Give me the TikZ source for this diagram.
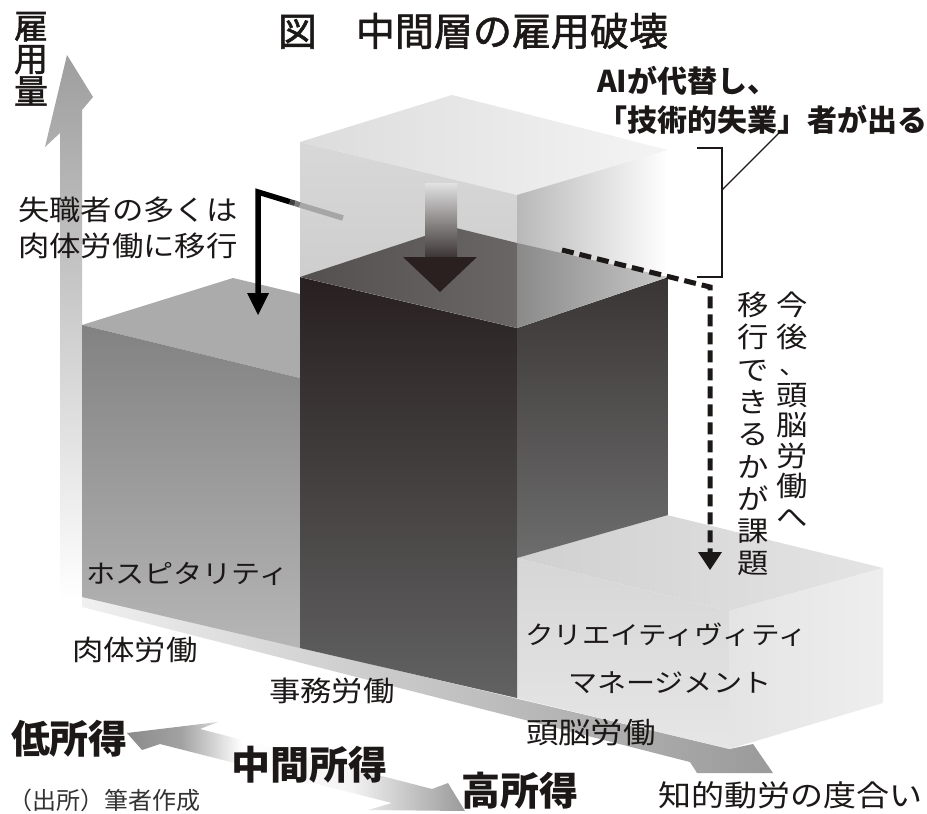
\documentclass[tikz,border=0pt]{standalone}
\usepackage{fontspec}
\newfontfamily\jp{Noto Sans CJK JP}
\newfontfamily\jpx[FakeStretch=1.12]{Noto Sans CJK JP}
\newfontfamily\jpm[FakeBold=1.5]{Noto Sans CJK JP}
\definecolor{ink}{HTML}{1C1818}
\definecolor{axA}{HTML}{9E9E9E}
\definecolor{hA}{HTML}{F0F0F0}
\definecolor{hB}{HTML}{9A9A9A}
\definecolor{iA}{HTML}{8A8A8A}
\definecolor{iB}{HTML}{A2A2A2}
\definecolor{iC}{HTML}{F4F4F4}
\definecolor{iD}{HTML}{9A9A9A}
\definecolor{lbTop}{HTML}{ABABAB}
\definecolor{lbA}{HTML}{828282}
\definecolor{lbB}{HTML}{B6B6B6}
\definecolor{rbTa}{HTML}{D0D0D0}
\definecolor{rbTb}{HTML}{E4E4E4}
\definecolor{rbFa}{HTML}{D6D6D6}
\definecolor{rbFb}{HTML}{E6E6E6}
\definecolor{rbRa}{HTML}{E4E4E4}
\definecolor{rbRb}{HTML}{EEEEEE}
\definecolor{dkFa}{HTML}{282020}
\definecolor{dkFb}{HTML}{626262}
\definecolor{dkRa}{HTML}{3A3535}
\definecolor{dkRb}{HTML}{6D6D6D}
\definecolor{ghTa}{HTML}{DCDCDC}
\definecolor{ghTb}{HTML}{F4F4F4}
\definecolor{ghFa}{HTML}{D8D8D8}
\definecolor{ghFb}{HTML}{CACACA}
\definecolor{ghRa}{HTML}{B8B8B8}
\definecolor{dtFa}{HTML}{555050}
\definecolor{dtFb}{HTML}{6A6666}
\definecolor{dtRa}{HTML}{8A8A8A}
\definecolor{dtRb}{HTML}{C8C8C8}
\definecolor{baA}{HTML}{E2E2E2}
\definecolor{baB}{HTML}{3C3434}
\definecolor{baC}{HTML}{2A2020}
\definecolor{lg1}{HTML}{404040}
\definecolor{lg2}{HTML}{777777}
\definecolor{lg3}{HTML}{A6A6A6}
\definecolor{src}{HTML}{333333}
\pgfdeclarehorizontalshading{incomeshade}{100bp}{color(0bp)=(iA); color(25bp)=(iA); color(33bp)=(iB); color(42bp)=(white); color(58bp)=(iC); color(75bp)=(iD); color(100bp)=(iD)}
\begin{document}
\begin{tikzpicture}[x=1pt,y=-1pt,
  txt/.style={inner sep=0pt, outer sep=0pt, text=ink},
  lab/.style={txt, anchor=west, font=\jpx\fontsize{28}{31.7}\selectfont},
  bold/.style={txt, anchor=west, font=\jp\bfseries\fontsize{39}{42}\selectfont},
  vcol/.style={txt, anchor=north, align=center, font=\jpx\fontsize{28}{32.3}\selectfont},
  dashline/.style={line width=5pt, dash pattern=on 12pt off 6pt, ink},
  thinline/.style={line width=1.3pt, ink}]
\useasboundingbox (0,0) rectangle (927,814);
\fill[white] (0,0) rectangle (927,814);

% vertical axis arrow
\shade[top color=axA, bottom color=white] (60,600) -- (60,133) -- (45,147) -- (67,55) -- (93,97) -- (82,110) -- (82,600) -- cycle;
% horizontal axis band
\shade[left color=hA, right color=hB] (82,596) -- (730,749) -- (753,744) -- (773,773) -- (697,773) -- (690,762) -- (82,607) -- cycle;
% income double arrow
\shade[shading=incomeshade] (127,733) -- (218,722) -- (200,729) -- (432,789) -- (448,783) -- (465,811) -- (368,810) -- (392,803) -- (160,744) -- (142,750) -- cycle;

% left block
\fill[lbTop] (82,325) -- (233,278) -- (300,294) -- (300,378) -- cycle;
\shade[top color=lbA, bottom color=lbB] (82,325) -- (300,378) -- (300,648) -- (82,597) -- cycle;

% right block
\shade[left color=rbTa, right color=rbTb] (517,558) -- (667,515) -- (883,568) -- (729,611) -- cycle;
\shade[top color=rbFa, bottom color=rbFb] (517,558) -- (729,611) -- (729,749) -- (517,698) -- cycle;
\shade[left color=rbRa, right color=rbRb] (729,611) -- (883,568) -- (883,703) -- (729,749) -- cycle;

% dark block
\shade[top color=dkFa, bottom color=dkFb] (300,277) -- (517,328) -- (517,698) -- (300,648) -- cycle;
\shade[top color=dkRa, bottom color=dkRb] (517,328) -- (668,277) -- (668,515) -- (517,558) -- cycle;

% ghost block
\shade[left color=ghTa, right color=ghTb] (300,142) -- (452,95) -- (668,150) -- (517,195) -- cycle;
\shade[top color=ghFa, bottom color=ghFb] (300,142) -- (517,195) -- (517,328) -- (300,277) -- cycle;
\shade[left color=ghRa, right color=white] (517,195) -- (668,150) -- (668,277) -- (517,328) -- cycle;
% dark top seen through ghost
\shade[left color=dtFa, right color=dtFb] (300,277) -- (452,227) -- (517,243) -- (517,328) -- cycle;
\shade[left color=dtRa, right color=dtRb] (517,243) -- (668,277) -- (517,328) -- cycle;

% big down arrow
\shade[top color=baA, bottom color=baB] (425,183) rectangle (457,257.5);
\fill[baC] (403,257) -- (477,257) -- (440,292) -- cycle;

% L-shaped arrow
\coordinate (lA) at (343,218);
\coordinate (l3) at (300,205);
\coordinate (l2) at (295,203.3);
\coordinate (l1) at (290,201.8);
\coordinate (lC) at (258,192);
\coordinate (lH) at (258,295);
\draw[line width=5.5pt, black, line join=miter] (l1) -- (lC) -- (lH);
\draw[line width=5.5pt, lg1] (l1) -- (l2);
\draw[line width=5.5pt, lg2] (l2) -- (l3);
\draw[line width=5.5pt, lg3] (l3) -- (lA);
\fill[black] (247,293) -- (269,293) -- (258,315) -- cycle;

% bracket and leader
\coordinate (bT) at (697,148);
\coordinate (bB) at (697,277);
\coordinate (bL) at (722,190);
\coordinate (bE) at (782,130);
\draw[thinline] (bT) -- (722,148) -- (722,277) -- (bB);
\draw[line width=1.1pt, ink] (bL) -- (bE);

% dashed arrow
\coordinate (dS) at (562,250);
\coordinate (dK) at (710,287);
\coordinate (dE) at (710,552);
\draw[dashline] (dS) -- (dK) -- (dE);
\fill[ink] (698,552) -- (722,552) -- (710,570) -- cycle;

% texts
\node[txt, anchor=west, font=\jpm\fontsize{39}{40}\selectfont] (title) at (278,31) {図　中間層の雇用破壊};
\node[txt, anchor=north, align=center, font=\jpm\fontsize{34}{32.5}\selectfont] (yaxis) at (31,12) {雇\\用\\量};
\node[txt, anchor=west, font=\jp\bfseries\fontsize{30}{40}\selectfont] (ai1) at (597,81) {AIが代替し、};
\node[txt, anchor=west, font=\jp\bfseries\fontsize{30}{40}\selectfont] (ai2) at (597,120) {「技術的失業」者が出る};
\node[lab] (shi1) at (18,210) {失職者の多くは};
\node[lab] (shi2) at (18,246) {肉体労働に移行};
\node[vcol] (vr1) at (792,292) {今\\後};
\node[txt, anchor=base west, font=\jpx\fontsize{24}{24}\selectfont] (vrc) at (779,374) {、};
\node[vcol, font=\jpx\fontsize{28}{30.5}\selectfont] (vr2) at (792,383) {頭\\脳\\労\\働\\へ};
\node[vcol] (vl) at (753,292) {移\\行\\で\\き\\る\\か\\が\\課\\題};
\node[lab, font=\jpx\fontsize{26}{30}\selectfont] (hosp) at (86,574) {ホスピタリティ};
\node[lab] (niku) at (72,650) {肉体労働};
\node[lab] (jimu) at (269,691) {事務労働};
\node[lab, font=\jpx\fontsize{25.5}{30}\selectfont] (crea) at (525,635) {クリエイティヴィティ};
\node[lab, font=\jpx\fontsize{26}{30}\selectfont] (mana) at (568,683) {マネージメント};
\node[lab, font=\jpx\fontsize{29}{32}\selectfont] (zuno) at (526,733) {頭脳労働};
\node[bold] (low) at (11,739) {低所得};
\node[bold] (mid) at (231,765) {中間所得};
\node[bold] (high) at (461,791) {高所得};
\node[txt, anchor=west, text=src, font=\jp\fontsize{24}{26}\selectfont] (source) at (9,800) {（出所）筆者作成};
\node[lab, font=\jpx\fontsize{29.5}{32}\selectfont] (chiteki) at (658,795) {知的動労の度合い};
\end{tikzpicture}
\end{document}
